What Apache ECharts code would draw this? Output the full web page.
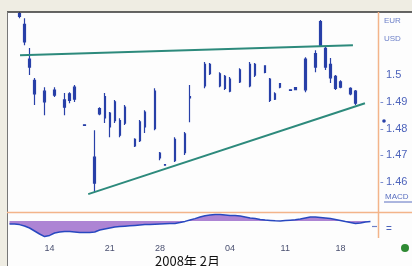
<!DOCTYPE html>
<html>
<head>
<meta charset="utf-8">
<script src="https://cdn.jsdelivr.net/npm/echarts@6/dist/echarts.min.js"></script>
<style>
  html, body { margin: 0; padding: 0; background: #efede3; }
  #chart { width: 412px; height: 266px; }
</style>
</head>
<body>
<div id="chart"></div>
<script>
// 槽位数量（每根 K 线一个槽）
const slotCount = 74;

// x 轴刻度标签
const tickIdx = [8, 20, 30, 44, 55, 66];
const tickText = ['14', '21', '28', '04', '11', '18'];

// K 线：槽位、开、收、低、高
const candleSlot  = [2, 3, 4, 5, 7, 9, 11, 12, 13, 15, 17, 18, 19, 20, 21, 22, 23, 25, 26, 27, 29, 30, 31, 33, 35, 36,
  39, 40, 42, 43, 44, 46, 48, 49, 51, 52, 53, 54, 56, 57, 59, 61, 62, 63, 64, 65, 66, 68, 69];
const candleOpen  = [1.5230, 1.5190, 1.5060, 1.4980, 1.4940, 1.4944, 1.4907, 1.4930, 1.4955, 1.4814, 1.4693, 1.4875, 1.4920,
  1.4858, 1.4900, 1.4830, 1.4880, 1.4760, 1.4825, 1.4862, 1.4940, 1.4708, 1.4665, 1.4760, 1.4780, 1.4920,
  1.5040, 1.5040, 1.5005, 1.4995, 1.4985, 1.5020, 1.5040, 1.5040, 1.5035, 1.4985, 1.4930, 1.4968, 1.4945, 1.4953,
  1.5060, 1.5080, 1.5200, 1.5100, 1.5040, 1.4995, 1.4975, 1.4950, 1.4940];
const candleClose = [1.5220, 1.5124, 1.5030, 1.4930, 1.4900, 1.4925, 1.4880, 1.4905, 1.4910, 1.4812, 1.4596, 1.4855, 1.4840,
  1.4806, 1.4830, 1.4775, 1.4820, 1.4735, 1.4755, 1.4806, 1.4800, 1.4690, 1.4663, 1.4680, 1.4710, 1.4915,
  1.4960, 1.5005, 1.4960, 1.4950, 1.4940, 1.4975, 1.4960, 1.5000, 1.5010, 1.4905, 1.4910, 1.4955, 1.4943, 1.4946,
  1.4945, 1.5030, 1.5110, 1.5030, 1.4990, 1.4950, 1.4955, 1.4930, 1.4895];
const candleLow   = [1.5213, 1.5112, 1.5000, 1.4888, 1.4850, 1.4918, 1.4850, 1.4895, 1.4899, 1.4810, 1.4563, 1.4850, 1.4821,
  1.4768, 1.4821, 1.4768, 1.4813, 1.4731, 1.4750, 1.4783, 1.4794, 1.4682, 1.4662, 1.4675, 1.4701, 1.4824,
  1.4951, 1.5000, 1.4955, 1.4944, 1.4936, 1.4970, 1.4955, 1.4993, 1.5007, 1.4899, 1.4907, 1.4951, 1.4942, 1.4944,
  1.4936, 1.5011, 1.5105, 1.5019, 1.4970, 1.4944, 1.4951, 1.4925, 1.4888];
const candleHigh  = [1.5236, 1.5213, 1.5101, 1.4989, 1.4955, 1.4955, 1.4933, 1.4936, 1.4963, 1.4816, 1.4794, 1.4880, 1.4933,
  1.4862, 1.4907, 1.4839, 1.4888, 1.4764, 1.4832, 1.4869, 1.4951, 1.4712, 1.4666, 1.4768, 1.4787, 1.4963,
  1.5049, 1.5045, 1.5011, 1.5000, 1.4993, 1.5026, 1.5049, 1.5045, 1.5037, 1.4989, 1.4936, 1.4970, 1.4946, 1.4955,
  1.5067, 1.5093, 1.5206, 1.5105, 1.5064, 1.5000, 1.4981, 1.4955, 1.4944];

// 趋势线（槽位坐标, 价格）
const resistX = [2.1, 68.5];
const resistY = [1.5074, 1.5112];
const supportX = [15.7, 70.9];
const supportY = [1.4555, 1.4895];

// 副图指标
const macdValues = [-0.15, -0.15, -0.18, -0.25, -0.35, -0.5, -0.65, -0.78, -0.72, -0.6,
  -0.55, -0.52, -0.53, -0.55, -0.57, -0.58, -0.58, -0.55, -0.45, -0.4,
  -0.35, -0.3, -0.28, -0.26, -0.24, -0.22, -0.2, -0.18, -0.17, -0.16,
  -0.15, -0.14, -0.13, -0.12, -0.08, -0.02, 0.05, 0.12, 0.2, 0.26,
  0.3, 0.32, 0.32, 0.3, 0.28, 0.27, 0.25, 0.2, 0.15, 0.12,
  0.08, 0.05, 0.03, 0.01, 0.0, 0.02, 0.04, 0.06, 0.1, 0.15,
  0.2, 0.2, 0.18, 0.15, 0.12, 0.08, 0.03, -0.03, -0.08, -0.12,
  -0.1, -0.05, -0.03, '-'];

// 右侧价格刻度
const priceTicks = [1.46, 1.47, 1.48, 1.49, 1.5];

const categories = Array.from({ length: slotCount }, (_, i) => 's' + i);
const candleData = categories.map(() => '-');
candleSlot.forEach((s, k) => {
  candleData[s] = [candleOpen[k], candleClose[k], candleLow[k], candleHigh[k]];
});

const BLUE = '#2840a8';
const ORANGE = '#f3b48a';
const TEAL = '#2d8a7c';
const LABEL_BLUE = '#4d63bb';
const FONT = 'Liberation Sans, Arial, sans-serif';

const chart = echarts.init(document.getElementById('chart'), null, { renderer: 'canvas' });

const option = {
  backgroundColor: '#efede3',
  animation: false,
  graphic: [
    { type: 'rect', z: -10, shape: { x: 7, y: 12, width: 405, height: 254 }, style: { fill: '#fdfdfd' } },
    { type: 'line', z: 10, shape: { x1: 7, y1: 12, x2: 412, y2: 12 }, style: { stroke: '#333', lineWidth: 1.5 } },
    { type: 'line', z: 10, shape: { x1: 7.5, y1: 12, x2: 7.5, y2: 266 }, style: { stroke: '#777', lineWidth: 1 } },
    { type: 'line', z: 10, shape: { x1: 7, y1: 212.5, x2: 412, y2: 212.5 }, style: { stroke: ORANGE, lineWidth: 1.5 } },
    { type: 'line', z: 10, shape: { x1: 378.5, y1: 12, x2: 378.5, y2: 238 }, style: { stroke: ORANGE, lineWidth: 1.5 } },
    { type: 'line', z: 10, shape: { x1: 372, y1: 226.5, x2: 377, y2: 226.5 }, style: { stroke: '#6d80c8', lineWidth: 1.2 } },
    { type: 'text', z: 10, x: 384, y: 17, style: { text: 'EUR', fill: '#6d80c8', font: '8px ' + FONT } },
    { type: 'text', z: 10, x: 384, y: 35, style: { text: 'USD', fill: '#6d80c8', font: '8px ' + FONT } },
    { type: 'text', z: 10, x: 385, y: 193, style: { text: 'MACD', fill: '#5a6fc0', font: '8px ' + FONT } },
    { type: 'line', z: 10, shape: { x1: 384, y1: 202, x2: 412, y2: 202 }, style: { stroke: '#5a6fc0', lineWidth: 1 } },
    { type: 'circle', z: 10, shape: { cx: 384, cy: 121, r: 1.8 }, style: { fill: BLUE } },
    { type: 'circle', z: 10, shape: { cx: 405, cy: 248, r: 4 }, style: { fill: '#2f8a34' } }
  ],
  grid: [
    { left: 7, right: 34, top: 12, height: 200, outerBoundsMode: 'none' },
    { left: 7, right: 34, top: 212, height: 28, outerBoundsMode: 'none' }
  ],
  xAxis: [
    {
      type: 'category', gridIndex: 0, data: categories, boundaryGap: true,
      axisLine: { show: false }, axisTick: { show: false }, axisLabel: { show: false }, splitLine: { show: false }
    },
    {
      type: 'category', gridIndex: 1, data: categories, boundaryGap: true,
      axisLine: { show: false }, axisTick: { show: false }, splitLine: { show: false },
      axisLabel: {
        interval: (index) => tickIdx.includes(index),
        formatter: (v, index) => {
          const k = tickIdx.indexOf(index);
          return k >= 0 ? tickText[k] : '';
        },
        color: '#4a5070', fontSize: 9, fontFamily: FONT, margin: 4
      },
      name: '2008年 2月', nameLocation: 'middle', nameGap: 15,
      nameTextStyle: { color: '#111', fontSize: 13, fontFamily: 'Noto Sans CJK SC', padding: [0, 10, 0, 0] }
    },
    { type: 'value', gridIndex: 0, min: -0.5, max: slotCount - 0.5, show: false }
  ],
  yAxis: [
    {
      type: 'value', gridIndex: 0, position: 'right', min: 1.4488, max: 1.5236,
      axisLine: { show: false }, splitLine: { show: false }, axisTick: { show: false },
      axisLabel: {
        customValues: priceTicks, margin: 2,
        formatter: (v) => (v === 1.5 ? '{t|}{n|1.5}' : '{t|-}{n|' + v.toFixed(2) + '}'),
        rich: {
          t: { width: 6, color: '#6d80c8', fontSize: 11, fontFamily: FONT },
          n: { color: LABEL_BLUE, fontSize: 11, fontFamily: FONT }
        }
      }
    },
    {
      type: 'value', gridIndex: 1, position: 'right', min: -0.95, max: 0.45,
      axisLine: { show: false }, splitLine: { show: false }, axisTick: { show: false },
      axisLabel: { customValues: [-0.4], formatter: () => '=', color: LABEL_BLUE, fontSize: 10, fontFamily: FONT, margin: 8 }
    }
  ],
  series: [
    {
      type: 'candlestick', xAxisIndex: 0, yAxisIndex: 0, data: candleData, barWidth: 2,
      itemStyle: { color: BLUE, color0: BLUE, borderColor: BLUE, borderColor0: BLUE, borderWidth: 1.2 }
    },
    {
      type: 'line', xAxisIndex: 2, yAxisIndex: 0, symbol: 'none',
      data: resistX.map((x, i) => [x, resistY[i]]),
      lineStyle: { color: TEAL, width: 2 }
    },
    {
      type: 'line', xAxisIndex: 2, yAxisIndex: 0, symbol: 'none',
      data: supportX.map((x, i) => [x, supportY[i]]),
      lineStyle: { color: TEAL, width: 2 }
    },
    {
      type: 'line', xAxisIndex: 1, yAxisIndex: 1, symbol: 'none', data: macdValues,
      lineStyle: { color: '#2848c0', width: 1.5 },
      areaStyle: { color: '#9f6fcc', opacity: 0.85 }
    }
  ]
};

chart.setOption(option);
</script>
</body>
</html>
